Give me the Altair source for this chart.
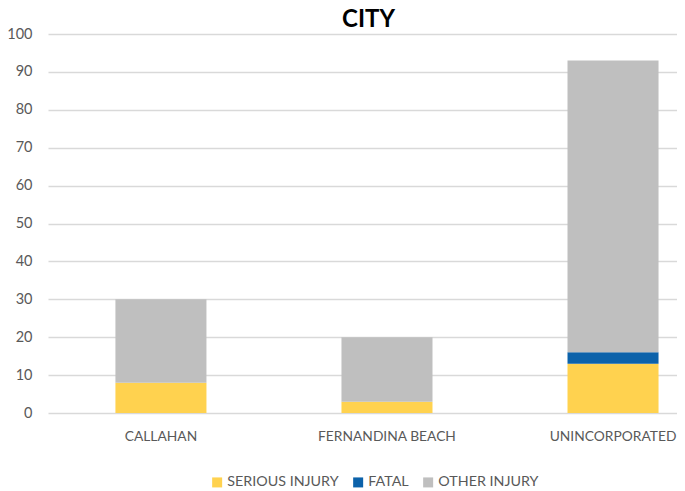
import altair as alt
import pandas as pd

cities = ["CALLAHAN", "FERNANDINA BEACH", "UNINCORPORATED"]
series = ["SERIOUS INJURY", "FATAL", "OTHER INJURY"]
serious = [8, 3, 13]
fatal = [0, 0, 3]
other = [22, 17, 77]
colors = ["#FFD24F", "#0C62AA", "#BFBFBF"]
y_ticks = [0, 10, 20, 30, 40, 50, 60, 70, 80, 90, 100]

rows = []
for i, c in enumerate(cities):
    for k, (s, vals) in enumerate(zip(series, [serious, fatal, other])):
        rows.append({"city": c, "type": s, "value": vals[i], "ord": k})
df = pd.DataFrame(rows)

FONT = "Lato"
LBL = 14.5

chart = alt.Chart(df).mark_bar().encode(
    x=alt.X("city:N", sort=cities, title=None,
            scale=alt.Scale(paddingInner=0.5973, paddingOuter=0.190, align=0.785),
            axis=alt.Axis(labelAngle=0, domain=False, ticks=False, grid=False,
                          labelFont=FONT, labelFontSize=13.8, labelColor="#595959",
                          labelPadding=16)),
    y=alt.Y("value:Q", stack="zero", title=None,
            scale=alt.Scale(domain=[0, 100], nice=False),
            axis=alt.Axis(values=y_ticks, domain=False, ticks=False,
                          gridColor="#D9D9D9", gridWidth=1.3,
                          labelFont=FONT, labelFontSize=LBL, labelColor="#595959",
                          labelPadding=16)),
    color=alt.Color("type:N", sort=series, title=None,
                    scale=alt.Scale(domain=series, range=colors),
                    legend=alt.Legend(orient="none", legendX=162, legendY=441,
                                      direction="horizontal", symbolType="square",
                                      symbolSize=100, symbolStrokeWidth=0,
                                      labelFont=FONT, labelFontSize=14.3,
                                      labelColor="#595959", labelOffset=3,
                                      columnPadding=12, padding=0)),
    order=alt.Order("ord:Q", sort="ascending"),
).properties(
    width=629,
    height=379,
    title=alt.TitleParams("CITY", font=FONT, fontSize=24, fontWeight="bold",
                          color="#000000", anchor="middle", offset=-6, dx=6),
    autosize=alt.AutoSizeParams(type="none"),
    padding={"left": 40, "top": 26, "right": 0, "bottom": 76},
).configure_view(stroke=None)

chart.save("out.html", embed_options={"renderer": "svg", "actions": False})
